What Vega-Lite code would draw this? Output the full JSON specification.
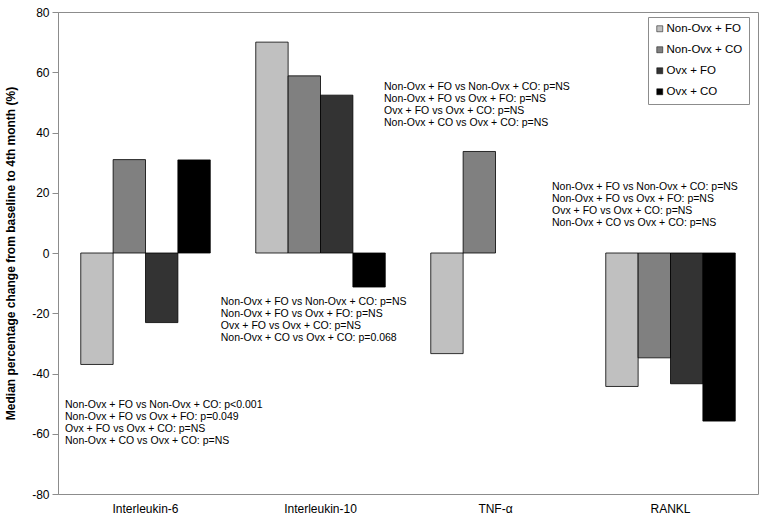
{
  "$schema": "https://vega.github.io/schema/vega-lite/v6.json",
  "autosize": "none",
  "width": 700,
  "height": 482,
  "padding": {"left": 58, "top": 12, "right": 8, "bottom": 27},
  "background": "white",
  "config": {
    "font": "Liberation Sans",
    "view": {"stroke": "#8c8c8c", "strokeWidth": 1},
    "axis": {"labelFont": "Liberation Sans", "titleFont": "Liberation Sans", "labelColor": "#000", "titleColor": "#000"}
  },
  "layer": [
    {
      "data": {"values": [
        {"cytokine": "Interleukin-6", "group": "Non-Ovx + FO", "value": -37},
        {"cytokine": "Interleukin-6", "group": "Non-Ovx + CO", "value": 31},
        {"cytokine": "Interleukin-6", "group": "Ovx + FO", "value": -23.1},
        {"cytokine": "Interleukin-6", "group": "Ovx + CO", "value": 30.9},
        {"cytokine": "Interleukin-10", "group": "Non-Ovx + FO", "value": 70},
        {"cytokine": "Interleukin-10", "group": "Non-Ovx + CO", "value": 58.8},
        {"cytokine": "Interleukin-10", "group": "Ovx + FO", "value": 52.4},
        {"cytokine": "Interleukin-10", "group": "Ovx + CO", "value": -11.3},
        {"cytokine": "TNF-α", "group": "Non-Ovx + FO", "value": -33.4},
        {"cytokine": "TNF-α", "group": "Non-Ovx + CO", "value": 33.7},
        {"cytokine": "RANKL", "group": "Non-Ovx + FO", "value": -44.3},
        {"cytokine": "RANKL", "group": "Non-Ovx + CO", "value": -34.8},
        {"cytokine": "RANKL", "group": "Ovx + FO", "value": -43.4},
        {"cytokine": "RANKL", "group": "Ovx + CO", "value": -55.8}
      ]},
      "mark": {"type": "bar", "stroke": "#000", "strokeWidth": 0.8},
      "encoding": {
        "x": {
          "field": "cytokine", "type": "nominal",
          "sort": ["Interleukin-6", "Interleukin-10", "TNF-α", "RANKL"],
          "scale": {"paddingInner": 0.26, "paddingOuter": 0.13},
          "axis": {"title": null, "labelAngle": 0, "domain": false, "ticks": false, "labelPadding": 9, "labelFontSize": 12}
        },
        "xOffset": {
          "field": "group", "type": "nominal",
          "scale": {"domain": ["Non-Ovx + FO", "Non-Ovx + CO", "Ovx + FO", "Ovx + CO"], "paddingInner": 0, "paddingOuter": 0}
        },
        "y": {
          "field": "value", "type": "quantitative",
          "scale": {"domain": [-80, 80], "nice": false, "zero": false},
          "axis": {
            "title": "Median percentage change from baseline to 4th month (%)",
            "titleFontSize": 12, "titleFontWeight": "bold",
            "values": [-80, -60, -40, -20, 0, 20, 40, 60, 80],
            "labelExpr": "replace(datum.label, '−', '-')",
            "grid": false, "labelFontSize": 12, "tickSize": 6, "labelPadding": 3,
            "domainColor": "#8c8c8c", "tickColor": "#8c8c8c", "titlePadding": 14
          }
        },
        "color": {
          "field": "group", "type": "nominal",
          "scale": {"domain": ["Non-Ovx + FO", "Non-Ovx + CO", "Ovx + FO", "Ovx + CO"], "range": ["#c0c0c0", "#808080", "#333333", "#000000"]},
          "legend": {
            "title": null, "orient": "none", "legendX": 590, "legendY": 5,
            "symbolType": "square", "symbolSize": 36, "symbolStrokeColor": "#000", "symbolStrokeWidth": 0.5,
            "labelFontSize": 11.5, "labelFont": "Liberation Sans", "rowPadding": 8,
            "padding": 6, "strokeColor": "#8c8c8c", "fillColor": "white", "labelOffset": 1
          }
        }
      }
    },
    {
      "mark": {"type": "rule", "color": "#8c8c8c", "strokeWidth": 1},
      "encoding": {"y": {"datum": 0}}
    },
    {
      "data": {"values": [
        {"ax": 0.04, "ay": -48.8, "label": "Non-Ovx + FO vs Non-Ovx + CO: p<0.001\nNon-Ovx + FO  vs Ovx + FO: p=0.049\nOvx + FO vs Ovx + CO: p=NS\nNon-Ovx + CO vs Ovx + CO: p=NS"},
        {"ax": 0.93, "ay": -14.6, "label": "Non-Ovx + FO vs Non-Ovx + CO: p=NS\nNon-Ovx + FO  vs Ovx + FO: p=NS\nOvx + FO vs Ovx + CO: p=NS\nNon-Ovx + CO vs Ovx + CO: p=0.068"},
        {"ax": 1.863, "ay": 56.8, "label": "Non-Ovx + FO vs Non-Ovx + CO: p=NS\nNon-Ovx + FO  vs Ovx + FO: p=NS\nOvx + FO vs Ovx + CO: p=NS\nNon-Ovx + CO vs Ovx + CO: p=NS"},
        {"ax": 2.823, "ay": 23.7, "label": "Non-Ovx + FO vs Non-Ovx + CO: p=NS\nNon-Ovx + FO  vs Ovx + FO: p=NS\nOvx + FO vs Ovx + CO: p=NS\nNon-Ovx + CO vs Ovx + CO: p=NS"}
      ]},
      "mark": {"type": "text", "align": "left", "baseline": "top", "fontSize": 10.5, "lineHeight": 12, "lineBreak": "\n", "color": "#000", "font": "Liberation Sans"},
      "encoding": {
        "x": {"field": "ax", "type": "quantitative", "scale": {"domain": [0, 4], "nice": false, "zero": false}, "axis": null},
        "y": {"field": "ay", "type": "quantitative"},
        "text": {"field": "label"}
      }
    }
  ],
  "resolve": {"scale": {"x": "independent"}}
}
